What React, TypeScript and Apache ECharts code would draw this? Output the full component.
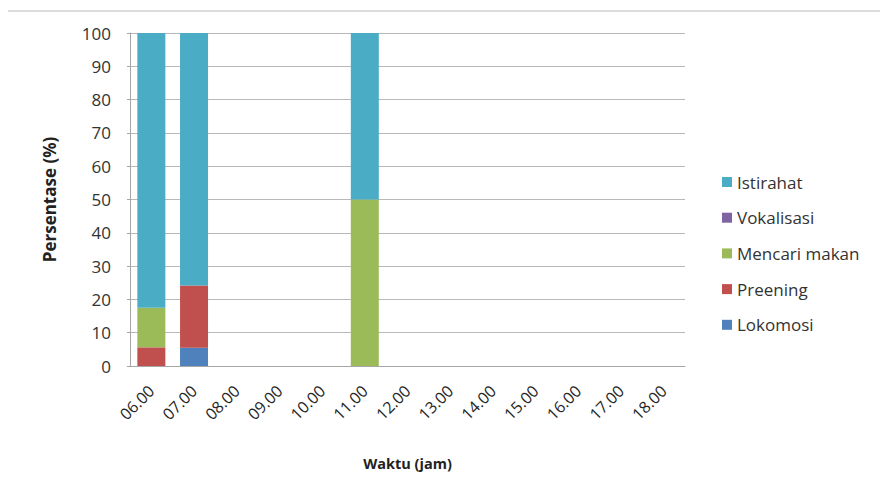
import React, { useEffect, useRef } from "react";
import * as echarts from "echarts";

const hours = ["06.00", "07.00", "08.00", "09.00", "10.00", "11.00", "12.00", "13.00", "14.00", "15.00", "16.00", "17.00", "18.00"];
const lokomosi = [0, 5.5, 0, 0, 0, 0, 0, 0, 0, 0, 0, 0, 0];
const preening = [5.6, 18.7, 0, 0, 0, 0, 0, 0, 0, 0, 0, 0, 0];
const mencariMakan = [11.9, 0, 0, 0, 0, 50, 0, 0, 0, 0, 0, 0, 0];
const vokalisasi = [0, 0, 0, 0, 0, 0, 0, 0, 0, 0, 0, 0, 0];
const istirahat = [82.5, 75.8, 0, 0, 0, 50, 0, 0, 0, 0, 0, 0, 0];
const yTicks = { min: 0, max: 100, interval: 10 };

const FONT = "'Open Sans', Lato, sans-serif";

export default function App() {
  const ref = useRef<HTMLDivElement>(null);

  useEffect(() => {
    if (!ref.current) return;
    const chart = echarts.init(ref.current, null, { renderer: "svg" });

    const bar = (name: string, data: number[], color: string) => ({
      name,
      type: "bar",
      stack: "total",
      data,
      barWidth: 28,
      itemStyle: { color },
      emphasis: { disabled: true },
    });

    chart.setOption({
      animation: false,
      backgroundColor: "#ffffff",
      textStyle: { fontFamily: FONT },
      graphic: [
        {
          type: "line",
          shape: { x1: 8, y1: 11, x2: 880, y2: 11 },
          style: { stroke: "#dcdcdc", lineWidth: 2 },
        },
      ],
      grid: { left: 130, right: 195, top: 33, bottom: 122 },
      legend: {
        orient: "vertical",
        left: 717,
        top: 167,
        itemWidth: 10,
        itemHeight: 10,
        itemGap: 15.7,
        icon: "rect",
        data: ["Istirahat", "Vokalisasi", "Mencari makan", "Preening", "Lokomosi"],
        textStyle: { fontFamily: FONT, fontSize: 17, lineHeight: 20, color: "#333333" },
      },
      xAxis: {
        type: "category",
        data: hours,
        name: "Waktu (jam)",
        nameLocation: "middle",
        nameGap: 90,
        nameTextStyle: { fontFamily: FONT, fontSize: 14.5, fontWeight: "bold", color: "#222222" },
        axisLine: { lineStyle: { color: "#a6a6a6" } },
        axisTick: { show: false },
        axisLabel: { rotate: 45, fontSize: 16, color: "#262626", margin: 22, fontFamily: FONT },
      },
      yAxis: {
        type: "value",
        min: yTicks.min,
        max: yTicks.max,
        interval: yTicks.interval,
        name: "Persentase (%)",
        nameLocation: "middle",
        nameGap: 72,
        nameRotate: 90,
        nameTextStyle: { fontFamily: FONT, fontSize: 17, fontWeight: "bold", color: "#222222" },
        axisLine: { show: true, lineStyle: { color: "#a6a6a6" } },
        axisTick: { show: true, length: 3, lineStyle: { color: "#a6a6a6" } },
        axisLabel: { fontSize: 17, color: "#333333", margin: 19, fontFamily: FONT },
        splitLine: { lineStyle: { color: "#b8b8b8" } },
      },
      series: [
        bar("Lokomosi", lokomosi, "#4F81BD"),
        bar("Preening", preening, "#C0504D"),
        bar("Mencari makan", mencariMakan, "#9BBB59"),
        bar("Vokalisasi", vokalisasi, "#8064A2"),
        bar("Istirahat", istirahat, "#4BACC6"),
      ],
    });

    return () => chart.dispose();
  }, []);

  return (
    <div
      ref={ref}
      style={{ position: "fixed", left: 0, top: 0, width: 880, height: 488, background: "#fff" }}
    />
  );
}
